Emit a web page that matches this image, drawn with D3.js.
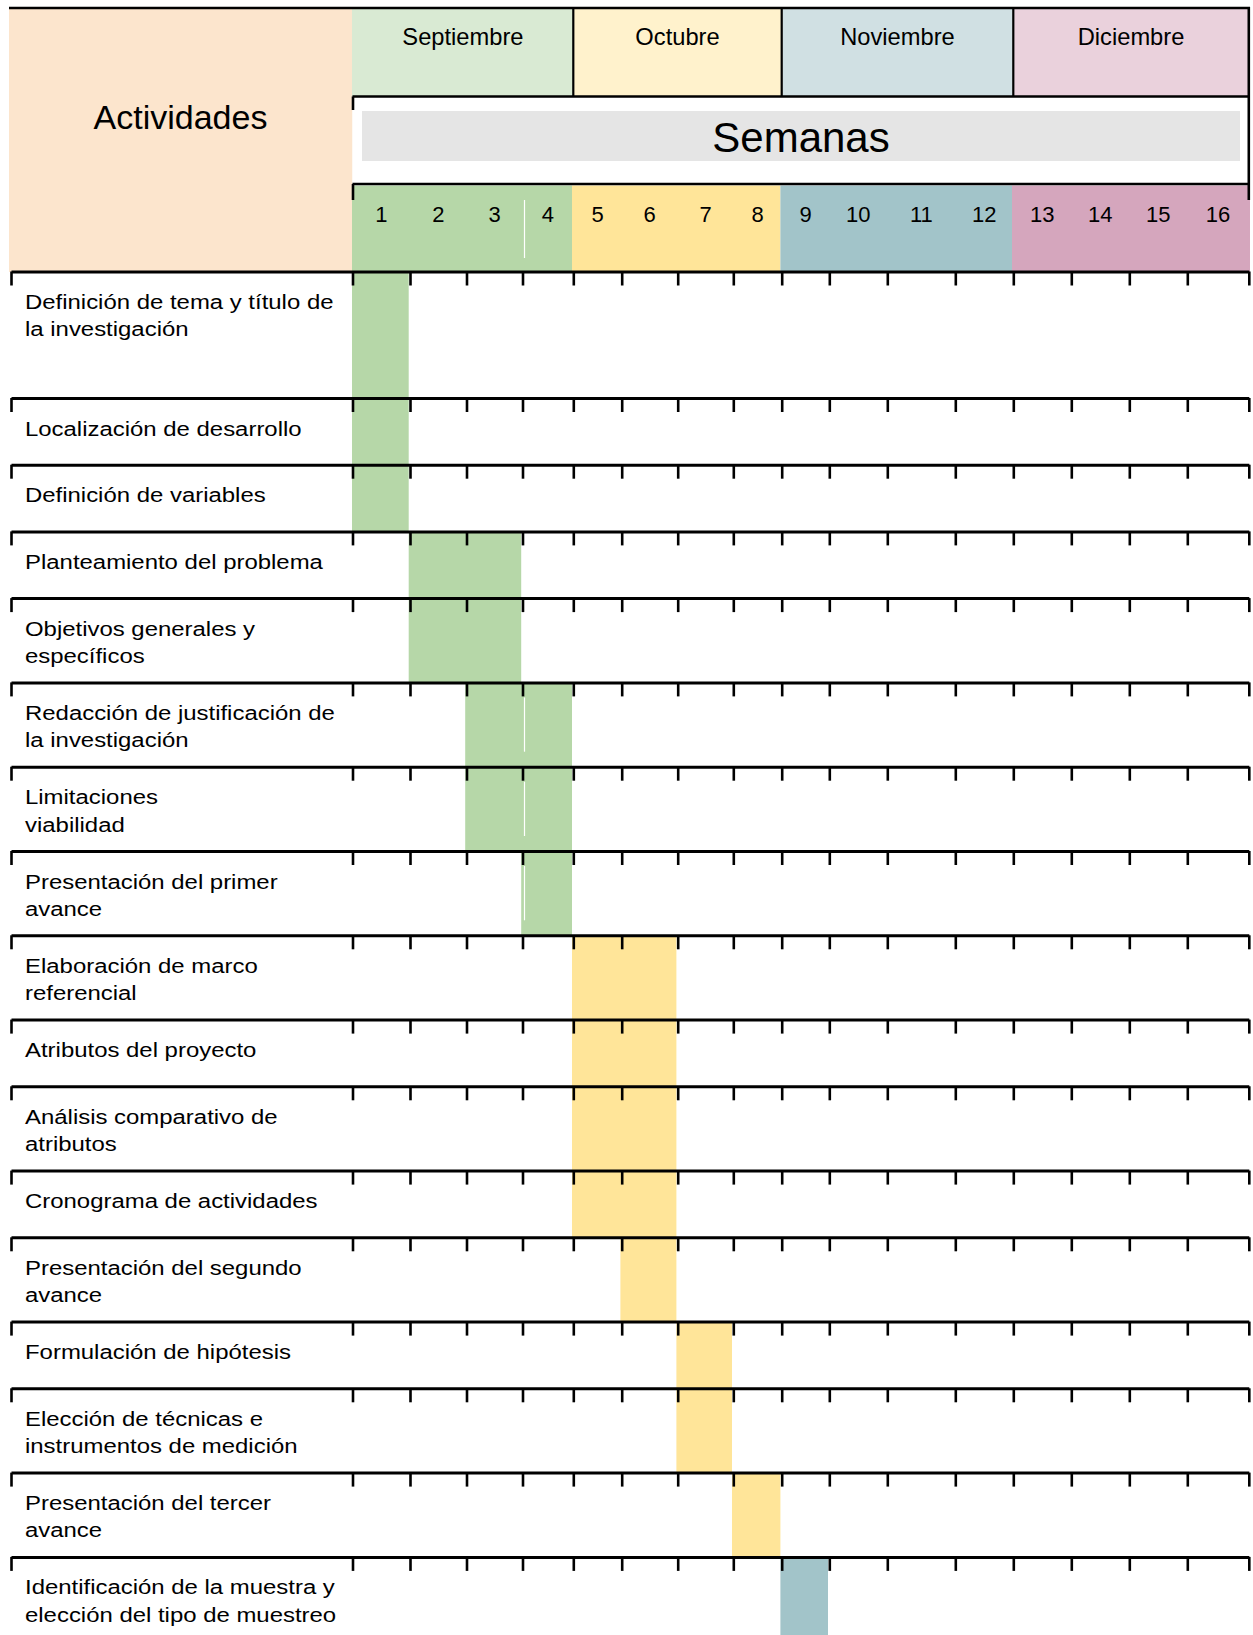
<!DOCTYPE html>
<html lang="es">
<head>
<meta charset="utf-8">
<title>Cronograma de actividades</title>
<script src="https://cdn.jsdelivr.net/npm/d3@7/dist/d3.min.js"></script>
<style>
  html, body { margin: 0; padding: 0; background: #ffffff; }
  svg { display: block; }
  text { font-family: "Liberation Sans", Arial, Helvetica, sans-serif; fill: #000; }
</style>
</head>
<body>
<svg id="chart" width="1253" height="1635"></svg>
<script>
// ---- Data ----------------------------------------------------------------
const months = ["Septiembre", "Octubre", "Noviembre", "Diciembre"];
const weekLabels = ["1", "2", "3", "4", "5", "6", "7", "8", "9", "10", "11", "12", "13", "14", "15", "16"];

// Activity names, one entry per line of the wrapped cell text
const activities = [
  ["Definición de tema y título de", "la investigación"],
  ["Localización de desarrollo"],
  ["Definición de variables"],
  ["Planteamiento del problema"],
  ["Objetivos generales y", "específicos"],
  ["Redacción de justificación de", "la investigación"],
  ["Limitaciones", "viabilidad"],
  ["Presentación del primer", "avance"],
  ["Elaboración de marco", "referencial"],
  ["Atributos del proyecto"],
  ["Análisis comparativo de", "atributos"],
  ["Cronograma de actividades"],
  ["Presentación del segundo", "avance"],
  ["Formulación de hipótesis"],
  ["Elección de técnicas e", "instrumentos de medición"],
  ["Presentación del tercer", "avance"],
  ["Identificación de la muestra y", "elección del tipo de muestreo"]
];
// First and last week (inclusive) of every activity
const startWeek = [1, 1, 1, 2, 2, 3, 3, 4, 5, 5, 5, 5, 6, 7, 7, 8, 9];
const endWeek   = [1, 1, 1, 3, 3, 4, 4, 4, 6, 6, 6, 6, 6, 7, 7, 8, 9];

// ---- Styles --------------------------------------------------------------
const monthLight = ["#d9ead3", "#fff2cc", "#d0e0e3", "#ead1dc"];
const monthStrong = ["#b6d7a8", "#ffe599", "#a2c4c9", "#d5a6bd"];
const headerFill = "#fce5cd";
const bandFill = "#e5e5e5";

// ---- Layout --------------------------------------------------------------
const W = 1253;
const labelLeft = 11;
// Spreadsheet column edges of the 16 week columns (uneven widths)
const colEdges = [352.5, 410, 466.5, 522.5, 573.3, 621.7, 677.7, 733.3, 781.7,
                  829.3, 887.3, 955.3, 1013.3, 1071.3, 1129.3, 1187.3, 1248.8];
const x = d3.scaleLinear()
  .domain(d3.range(-1, 17))
  .range([labelLeft, ...colEdges]);

const headTop = 8, monthBottom = 96.5, weeksTop = 184, gridTop = 272;
const rowHeight = (lines, i) => i === 0 ? 126.5 : (lines.length > 1 ? 84.3 : 66.7);
const rowTops = [];
activities.reduce((y, lines, i) => { rowTops.push(y); return y + rowHeight(lines, i); }, gridTop);
const rowBottom = i => rowTops[i] + rowHeight(activities[i], i);

const svg = d3.select("#chart");
const monthOf = w => Math.floor((w - 1) / 4);
const edgeX = w => x(w) - 1.3;   // fill edge of a week column boundary

// ---- Header --------------------------------------------------------------
const head = svg.append("g");

head.append("rect")
  .attr("x", 9).attr("y", headTop + 1)
  .attr("width", x(0) - 9).attr("height", gridTop - headTop - 1)
  .attr("fill", headerFill);

head.selectAll("rect.month")
  .data(months)
  .join("rect")
  .attr("class", "month")
  .attr("x", (d, i) => i === 0 ? x(0) - 0.5 : x(i * 4))
  .attr("y", headTop + 1)
  .attr("width", (d, i) => (i === 3 ? 1250 : x(i * 4 + 4)) - (i === 0 ? x(0) - 0.5 : x(i * 4)))
  .attr("height", monthBottom - headTop - 1)
  .attr("fill", (d, i) => monthLight[i]);

head.selectAll("text.month")
  .data(months)
  .join("text")
  .attr("class", "month")
  .attr("x", (d, i) => (x(i * 4) + x(i * 4 + 4)) / 2)
  .attr("y", 45)
  .attr("text-anchor", "middle")
  .attr("font-size", 23.7)
  .text(d => d);

// "Semanas" band
head.append("rect")
  .attr("x", x(0)).attr("y", monthBottom + 1)
  .attr("width", 1248 - x(0)).attr("height", weeksTop - monthBottom - 1.5)
  .attr("fill", "#ffffff");
head.append("rect")
  .attr("x", 362).attr("y", 111)
  .attr("width", 1240 - 362).attr("height", 50)
  .attr("fill", bandFill);
head.append("text")
  .attr("x", 801).attr("y", 151.5)
  .attr("text-anchor", "middle")
  .attr("font-size", 42)
  .text("Semanas");

// Week number row coloured by month
head.selectAll("rect.weekband")
  .data(months)
  .join("rect")
  .attr("class", "weekband")
  .attr("x", (d, i) => i === 0 ? x(0) - 0.5 : edgeX(i * 4))
  .attr("y", weeksTop + 1.5)
  .attr("width", (d, i) => (i === 3 ? 1250 : edgeX(i * 4 + 4)) - (i === 0 ? x(0) - 0.5 : edgeX(i * 4)))
  .attr("height", gridTop - weeksTop - 1.5)
  .attr("fill", (d, i) => monthStrong[i]);

// thin white cell border inside week 4
head.append("line")
  .attr("x1", x(3) + 2).attr("x2", x(3) + 2)
  .attr("y1", weeksTop + 16).attr("y2", gridTop - 14)
  .attr("stroke", "#ffffff").attr("stroke-width", 1.2);

head.selectAll("text.week")
  .data(weekLabels)
  .join("text")
  .attr("class", "week")
  .attr("x", (d, i) => (x(i) + x(i + 1)) / 2)
  .attr("y", 221.7)
  .attr("text-anchor", "middle")
  .attr("font-size", 22)
  .text(d => d);

head.append("text")
  .attr("x", 180.5).attr("y", 129.3)
  .attr("text-anchor", "middle")
  .attr("font-size", 34)
  .text("Actividades");

// Header borders
const border = head.append("g").attr("stroke", "#000").attr("fill", "none");
border.append("line").attr("x1", 9).attr("x2", 1250).attr("y1", headTop).attr("y2", headTop).attr("stroke-width", 2.6);
border.append("line").attr("x1", x(0)).attr("x2", 1250).attr("y1", monthBottom).attr("y2", monthBottom).attr("stroke-width", 2.6);
border.append("line").attr("x1", x(0)).attr("x2", 1250).attr("y1", weeksTop).attr("y2", weeksTop).attr("stroke-width", 2.6);
border.selectAll("line.sep")
  .data([4, 8, 12])
  .join("line")
  .attr("class", "sep")
  .attr("x1", d => x(d)).attr("x2", d => x(d))
  .attr("y1", headTop).attr("y2", monthBottom)
  .attr("stroke-width", 2.2);
border.append("line").attr("x1", x(16)).attr("x2", x(16)).attr("y1", headTop - 1).attr("y2", 200).attr("stroke-width", 2.6);
border.append("line").attr("x1", x(0) + 0.5).attr("x2", x(0) + 0.5).attr("y1", monthBottom).attr("y2", 110).attr("stroke-width", 2.6);
border.append("line").attr("x1", x(0) + 0.5).attr("x2", x(0) + 0.5).attr("y1", weeksTop).attr("y2", 200).attr("stroke-width", 2.6);

// ---- Activity rows -------------------------------------------------------
const rows = svg.append("g");

rows.selectAll("rect.bar")
  .data(activities)
  .join("rect")
  .attr("class", "bar")
  .attr("x", (d, i) => startWeek[i] === 1 ? x(0) - 0.5 : edgeX(startWeek[i] - 1))
  .attr("y", (d, i) => rowTops[i])
  .attr("width", (d, i) => edgeX(endWeek[i]) - (startWeek[i] === 1 ? x(0) - 0.5 : edgeX(startWeek[i] - 1)))
  .attr("height", (d, i) => rowBottom(i) - rowTops[i])
  .attr("fill", (d, i) => monthStrong[monthOf(startWeek[i])]);

// white cell border inside week 4 on filled cells
rows.selectAll("line.cellgap")
  .data(activities.map((d, i) => i).filter(i => startWeek[i] <= 4 && endWeek[i] >= 4))
  .join("line")
  .attr("class", "cellgap")
  .attr("x1", x(3) + 2).attr("x2", x(3) + 2)
  .attr("y1", i => rowTops[i] + 14.5)
  .attr("y2", i => rowBottom(i) - 15.5)
  .attr("stroke", "#ffffff").attr("stroke-width", 1.2);

// Row rules with week ticks
const rowAxis = d3.axisBottom(x)
  .tickValues(d3.range(-1, 17))
  .tickSize(14)
  .tickSizeOuter(0)
  .tickFormat("");

rowTops.forEach(y => {
  const g = rows.append("g")
    .attr("transform", `translate(0,${y - 0.5})`)
    .call(rowAxis);
  g.select(".domain").attr("stroke", "#000").attr("stroke-width", 3);
  g.selectAll(".tick line").attr("stroke", "#000").attr("stroke-width", 2.6);
});

// Activity labels
const labels = rows.selectAll("g.label")
  .data(activities)
  .join("g")
  .attr("class", "label")
  .attr("transform", (d, i) => `translate(25,${rowTops[i] + 37}) scale(1.14,1)`);

labels.selectAll("text")
  .data(d => d)
  .join("text")
  .attr("x", 0)
  .attr("y", (d, j) => j * 27.4)
  .attr("font-size", 21)
  .text(d => d);
</script>
</body>
</html>
